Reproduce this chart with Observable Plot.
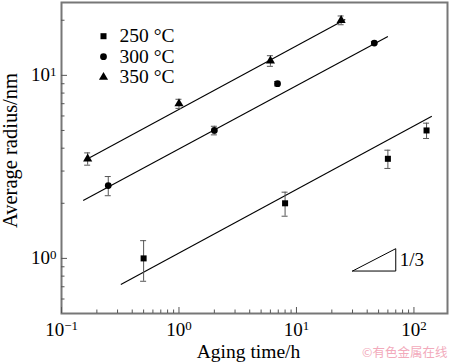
<!DOCTYPE html>
<html><head><meta charset="utf-8">
<script src="https://cdn.jsdelivr.net/npm/d3@7"></script>
<script src="https://cdn.jsdelivr.net/npm/@observablehq/plot@0.6"></script>
<style>body{margin:0;background:#fff}#c{width:450px;height:362px}</style>
</head><body><div id="c"></div><script>
const series = ["250 °C", "300 °C", "350 °C"];
const symbols = ["square", "circle", "triangle"];
const time250 = [0.5, 8, 60, 128];
const radius250 = [1.0, 2.0, 3.5, 5.0];
const err250 = [0.25, 0.3, 0.4, 0.48];
const time300 = [0.25, 2, 6.9, 46];
const radius300 = [2.5, 5.0, 9.0, 15.0];
const err300 = [0.3, 0.27, 0.25, 0.3];
const time350 = [0.167, 1, 6, 24];
const radius350 = [3.5, 7.0, 12.0, 20.0];
const err350 = [0.27, 0.4, 0.8, 1.1];
// fitted lines (slope ~1/3): [start, end]
const fitTime = [[0.32, 142], [0.153, 60], [0.175, 26]];
const fitRadius = [[0.72, 5.97], [2.07, 16.3], [3.56, 20.2]];
const slopeTriTime = [30, 70, 70, 30];
const slopeTriRadius = [0.853, 0.853, 1.13, 0.853];
const slopeLabel = "1/3";
const xMajor = [0.1, 1, 10, 100];
const xMinor = [0.2,0.3,0.4,0.5,0.6,0.7,0.8,0.9,2,3,4,5,6,7,8,9,20,30,40,50,60,70,80,90];
const yMajor = [1, 10];
const yMinor = [0.6,0.7,0.8,0.9,2,3,4,5,6,7,8,9,20];
const xTitle = "Aging time/h";
const yTitle = "Average radius/nm";
const watermark = "©有色金属在线";

const rows = (t, r, e, s) => t.map((d, i) => ({time: d, radius: r[i], err: e[i], series: s}));
const data = [
  ...rows(time250, radius250, err250, series[0]),
  ...rows(time300, radius300, err300, series[1]),
  ...rows(time350, radius350, err350, series[2])
];
const fits = series.map((s, i) => ({series: s, x1: fitTime[i][0], x2: fitTime[i][1], y1: fitRadius[i][0], y2: fitRadius[i][1]}));
const tri = slopeTriTime.map((t, i) => ({time: t, radius: slopeTriRadius[i]}));
const fmt = d => "10^" + Math.round(Math.log10(d));
const axisColor = "#555";
const serif = "'Liberation Serif', 'Times New Roman', serif";

const plot = Plot.plot({
  width: 450, height: 362,
  marginLeft: 61, marginRight: 3, marginTop: 2, marginBottom: 49,
  style: {fontFamily: serif, background: "#fff", color: "#000"},
  x: {type: "log", domain: [0.1, 193], axis: null},
  y: {type: "log", domain: [0.5, 25], axis: null},
  symbol: {domain: series, range: symbols},
  marks: [
    Plot.frame({stroke: "#777", strokeWidth: 2}),
    Plot.axisX(xMajor, {anchor: "bottom", tickSize: 6, dy: -6, tickFormat: () => "", label: null, stroke: axisColor}),
    Plot.axisX(xMinor, {anchor: "bottom", tickSize: 3.5, dy: -3.5, tickFormat: () => "", label: null, stroke: axisColor}),
    Plot.axisX(xMajor, {anchor: "bottom", tickSize: 0, tickPadding: 9, tickFormat: fmt, label: null, fontSize: 19, fill: "#000", fontFamily: serif}),
    Plot.axisY(yMajor, {anchor: "left", tickSize: 6, dx: 6, tickFormat: () => "", label: null, stroke: axisColor}),
    Plot.axisY(yMinor, {anchor: "left", tickSize: 3.5, dx: 3.5, tickFormat: () => "", label: null, stroke: axisColor}),
    Plot.axisY(yMajor, {anchor: "left", tickSize: 0, tickPadding: 5, tickFormat: fmt, label: null, fontSize: 19, fill: "#000", fontFamily: serif}),
    Plot.link(fits, {x1: "x1", y1: "y1", x2: "x2", y2: "y2", stroke: "#000", strokeWidth: 1.1}),
    Plot.ruleX(data, {x: "time", y1: d => d.radius - d.err, y2: d => d.radius + d.err, stroke: "#555", strokeWidth: 1}),
    Plot.ruleY(data, {x1: "time", x2: "time", y: d => d.radius - d.err, insetLeft: -3, insetRight: -3, stroke: "#555", strokeWidth: 1}),
    Plot.ruleY(data, {x1: "time", x2: "time", y: d => d.radius + d.err, insetLeft: -3, insetRight: -3, stroke: "#555", strokeWidth: 1}),
    Plot.dot(data, {x: "time", y: "radius", symbol: "series", fill: "#000", stroke: "none", r: 3.4}),
    Plot.line(tri, {x: "time", y: "radius", stroke: "#000", strokeWidth: 1}),
    Plot.text([slopeLabel], {x: slopeTriTime[2], y: Math.sqrt(slopeTriRadius[1] * slopeTriRadius[2]), dx: 4, textAnchor: "start", lineAnchor: "middle", fontSize: 19, fontFamily: serif}),
    ...series.map((s, i) => Plot.dot([s], {frameAnchor: "top-left", dx: 42, dy: 33.7 + i * 20.5, symbol: d => d, fill: "#000", stroke: "none", r: 3.4})),
    ...series.map((s, i) => Plot.text([s], {frameAnchor: "top-left", dx: 58, dy: 33.7 + i * 20.5, text: d => d, textAnchor: "start", lineAnchor: "middle", fontSize: 19.5, fontFamily: serif})),
    Plot.text([xTitle], {frameAnchor: "bottom", dx: -6, dy: 38, text: d => d, textAnchor: "middle", lineAnchor: "middle", fontSize: 19.5, fontFamily: serif}),
    Plot.text([yTitle], {frameAnchor: "left", dx: -51, dy: -7.5, rotate: -90, text: d => d, textAnchor: "middle", lineAnchor: "middle", fontSize: 20.5, fontFamily: serif}),
    Plot.text([watermark], {frameAnchor: "bottom-right", dx: 0, dy: 39, text: d => d, textAnchor: "end", lineAnchor: "middle", fill: "#f2aabb", fontSize: 12.5, fontFamily: "'Noto Sans CJK SC', sans-serif"})
  ]
});

d3.select(plot).selectAll('g[aria-label="x-axis tick label"] text, g[aria-label="y-axis tick label"] text').each(function() {
  const t = d3.select(this);
  const s = t.text();
  if (!s.includes("^")) return;
  const [base, exp] = s.split("^");
  t.text(base);
  t.append("tspan").attr("dy", "-0.45em").attr("font-size", "0.68em").text(exp.replace("-", "\u2212"));
});
document.getElementById("c").append(plot);
</script></body></html>
